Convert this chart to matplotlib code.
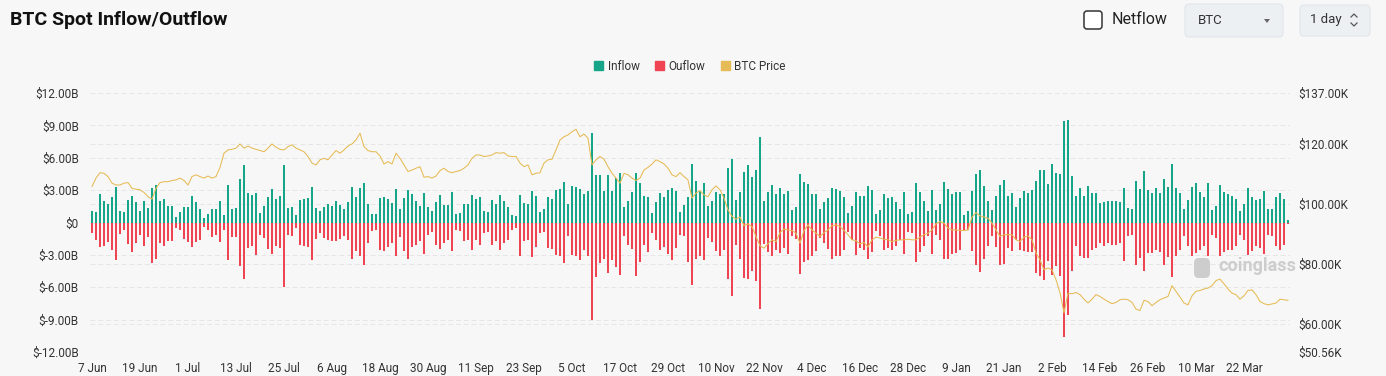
import matplotlib.pyplot as plt
import numpy as np
import pandas as pd
from matplotlib.patches import Patch, FancyBboxPatch, Polygon
from matplotlib.lines import Line2D
from matplotlib.transforms import IdentityTransform, blended_transform_factory

plt.rcParams['font.family'] = ['Roboto', 'DejaVu Sans']

## datos diarios desde el 7 Jun 2025 (miles de millones USD y miles USD)
start = '2025-06-07'

inflow = [
    1.08, 0.95, 2.62, 1.97, 1.69, 2.37, 3.32, 1.02, 0.95, 2.06,
    2.43, 1.88, 1.05, 1.97, 1.32, 3.2, 3.45, 2.0, 2.18, 1.51,
    1.51, 0.49, 0.98, 1.42, 1.45, 2.43, 1.91, 1.23, 0.46, 0.83,
    1.23, 1.23, 2.03, 0.71, 3.45, 1.23, 1.38, 4.06, 5.29, 2.71,
    2.52, 2.77, 0.89, 1.57, 2.37, 3.11, 2.15, 2.46, 5.35,
    1.32, 1.48, 0.68, 2.09, 2.15, 2.25, 3.32, 1.38, 1.05, 1.48,
    1.69, 1.57, 1.97, 1.6, 1.23, 1.94, 3.32, 2.4, 3.23, 3.69,
    1.69, 0.83, 0.77, 2.25, 2.4, 2.18, 1.78, 3.08, 1.23, 2.25,
    3.05, 2.62, 2.03, 1.57, 2.71, 1.48, 1.08, 1.94, 2.55, 1.63,
    1.63, 2.8, 0.77, 0.86, 1.69, 1.75, 2.52, 2.15, 2.34, 1.11,
    0.98, 2.06, 1.69, 2.55, 2.03, 1.48, 0.71, 0.62, 2.52, 1.78,
    1.75, 2.95, 2.49, 0.95, 1.26, 2.37, 2.15, 3.02, 3.11, 3.72,
    1.69, 3.42, 3.32, 3.11, 2.62, 2.95, 8.31, 4.37, 4.37, 2.95,
    4.37, 2.95, 4.09, 4.62, 1.42, 2.0, 2.83, 4.62, 3.63, 2.46,
    2.37, 0.86, 1.88, 2.71, 2.4, 3.02, 3.23, 2.89, 0.95, 1.6,
    2.4, 5.38, 3.82, 2.92, 3.69, 1.54, 2.03, 2.8, 2.65, 2.62,
    5.02, 5.85, 2.12, 2.86, 4.65, 5.35, 4.25, 4.89, 7.88, 2.0,
    2.83, 3.51, 2.62, 3.17, 2.62, 2.89, 1.17, 1.48, 4.46, 3.75,
    3.54, 2.62, 2.65, 1.26, 1.88, 2.31, 3.23, 3.14, 2.92, 2.4,
    0.92, 1.57, 2.86, 2.49, 2.49, 3.42, 2.98, 0.77, 1.14, 2.62,
    2.3, 2.34, 1.94, 1.29, 2.8, 0.8, 0.95, 3.63, 2.8, 2.03,
    1.08, 2.98, 1.2, 1.75, 3.78, 3.14, 2.65, 2.83, 2.8, 0.71,
    1.05, 2.95, 4.46, 4.89, 3.42, 2.03, 1.14, 2.49, 3.45, 3.97,
    2.43, 2.74, 1.42, 2.31, 2.95, 2.77, 2.98, 3.82, 4.89, 4.89,
    3.57, 5.42, 4.58, 4.46, 9.38, 9.51, 4.34, 2.46, 3.23, 2.49,
    3.42, 2.71, 2.71, 1.78, 1.94, 1.97, 2.03, 2.03, 1.88, 3.23,
    1.32, 1.26, 3.82, 3.11, 4.8, 3.05, 2.71, 3.17, 2.77, 4.0,
    3.26, 5.45, 3.17, 2.74, 1.26, 2.09, 3.26, 3.63, 2.8, 2.4,
    3.66, 1.17, 1.57, 3.51, 2.86, 2.62, 2.49, 2.15, 1.08, 1.69,
    3.23, 2.34, 2.06, 2.22, 2.92, 1.23, 1.29, 2.37, 2.71, 2.18,
    0.25,
]

outflow = [
    0.98, 1.6, 2.28, 2.22, 1.82, 2.58, 3.45, 1.05, 0.74, 1.97,
    2.74, 1.91, 1.14, 2.22, 1.35, 3.75, 3.35, 1.91, 2.22, 1.75,
    1.75, 0.52, 0.74, 1.54, 1.85, 2.28, 1.85, 1.6, 0.46, 0.74,
    1.35, 1.2, 1.82, 0.74, 3.51, 1.35, 1.35, 4.0, 5.2, 2.37,
    2.22, 2.98, 1.14, 1.48, 2.43, 2.89, 2.15, 2.37, 6.0,
    1.14, 1.23, 0.52, 2.06, 2.22, 2.31, 3.51, 1.51, 0.98, 1.45,
    1.6, 1.75, 1.69, 1.54, 1.23, 1.6, 3.35, 2.68, 3.14, 3.91,
    1.91, 0.83, 0.74, 2.52, 2.68, 2.28, 1.91, 3.14, 1.35, 2.62,
    3.35, 2.28, 2.06, 1.75, 2.92, 1.14, 0.92, 2.06, 2.46, 1.91,
    1.6, 2.68, 0.74, 0.83, 1.69, 1.6, 2.58, 1.6, 2.12, 0.98,
    0.92, 2.06, 1.75, 2.52, 1.91, 1.6, 0.68, 0.52, 3.08, 1.75,
    1.6, 3.23, 2.28, 0.98, 0.92, 2.37, 2.46, 2.98, 3.14, 3.75,
    1.29, 3.05, 3.14, 3.45, 2.52, 3.14, 9.05, 5.08, 3.75, 3.35,
    4.68, 3.45, 4.15, 4.89, 1.29, 2.06, 2.46, 4.92, 3.66, 2.12,
    2.77, 0.98, 1.6, 2.58, 2.31, 2.92, 3.51, 2.37, 1.14, 1.29,
    3.69, 5.75, 3.35, 3.14, 3.51, 1.45, 1.85, 2.68, 3.14, 2.52,
    5.2, 6.83, 2.06, 3.35, 5.14, 5.23, 4.52, 5.45, 8.06, 1.97,
    2.77, 3.14, 2.52, 2.83, 2.37, 2.89, 1.29, 1.51, 4.74, 3.69,
    3.45, 3.14, 2.62, 1.45, 1.91, 2.43, 3.35, 3.14, 3.14, 2.52,
    0.92, 1.6, 2.98, 2.37, 2.52, 3.35, 2.77, 0.77, 1.29, 2.58,
    2.4, 2.52, 2.22, 1.6, 2.89, 0.92, 0.98, 3.69, 2.77, 2.15,
    1.23, 2.89, 1.14, 1.6, 3.38, 3.38, 2.89, 2.83, 2.52, 0.74,
    0.68, 2.68, 3.91, 4.58, 3.38, 2.15, 1.23, 2.31, 3.97, 3.85,
    2.37, 2.62, 1.6, 2.52, 2.68, 2.77, 2.77, 4.68, 4.92, 5.35,
    3.6, 4.83, 4.0, 4.92, 10.6, 8.6, 4.52, 2.22, 3.14, 3.29,
    3.29, 2.52, 2.37, 1.91, 2.22, 1.91, 2.06, 2.06, 1.91, 3.6,
    1.29, 1.14, 3.91, 3.29, 4.52, 2.83, 2.83, 2.52, 2.77, 3.97,
    3.23, 5.08, 3.14, 2.52, 1.29, 2.15, 3.08, 2.83, 2.52, 2.22,
    3.14, 1.14, 1.45, 3.14, 2.77, 2.52, 2.52, 2.22, 1.14, 1.6,
    2.98, 2.68, 2.22, 2.37, 2.89, 1.14, 1.23, 2.22, 2.52, 2.06,
    0.1,
]

price = [
    105.8, 108.6, 110.4, 110.2, 109.1, 106.9, 106.3, 106.3, 106.9, 107.1,
    105.2, 104.9, 104.7, 103.8, 102.4, 101.6, 105.2, 107.1, 107.4, 107.4,
    107.8, 108.0, 108.6, 107.8, 106.3, 109.1, 109.7, 109.1, 108.6, 109.3,
    108.6, 109.1, 112.2, 116.9, 118.0, 118.2, 118.6, 120.0, 118.6, 119.3,
    118.6, 118.2, 117.8, 117.4, 118.6, 120.0, 118.9, 118.2, 118.0,
    119.1, 119.7, 118.6, 118.0, 117.4, 115.8, 113.6, 113.0, 114.7, 115.2,
    114.7, 116.3, 117.8, 116.9, 118.0, 119.3, 120.0, 121.3, 123.6, 119.1,
    117.8, 117.4, 117.4, 116.0, 113.3, 114.1, 113.3, 116.9, 115.2, 113.0,
    110.8, 111.3, 111.9, 112.4, 108.9, 109.1, 108.6, 109.3, 111.1, 111.9,
    110.8, 110.4, 110.8, 111.1, 111.9, 113.0, 115.2, 116.3, 116.3, 115.8,
    116.0, 116.3, 117.1, 116.9, 117.1, 116.0, 115.8, 115.8, 113.6, 112.4,
    113.0, 109.7, 110.2, 110.4, 113.6, 114.7, 114.9, 118.0, 121.3, 122.4,
    123.0, 124.1, 124.9, 122.4, 123.3, 121.9, 113.0, 114.7, 115.8, 114.9,
    112.4, 110.2, 108.6, 106.9, 110.2, 109.7, 108.6, 107.8, 108.6, 111.3,
    112.2, 113.3, 114.7, 114.1, 113.3, 111.9, 109.7, 109.1, 110.4, 109.1,
    108.0, 101.9, 103.6, 104.4, 103.0, 102.4, 104.7, 106.0, 104.7, 101.9,
    98.0, 95.8, 94.9, 95.6, 92.7, 93.3, 92.4, 89.1, 86.0, 85.2,
    86.7, 88.0, 87.4, 90.4, 91.6, 91.3, 91.1, 90.2, 86.9, 91.1,
    93.0, 91.3, 90.2, 89.1, 90.4, 91.3, 92.7, 93.0, 92.4, 91.1,
    89.7, 88.0, 87.7, 86.7, 87.1, 85.6, 88.0, 88.9, 88.6, 88.2,
    88.0, 87.4, 87.8, 88.0, 88.0, 88.2, 88.0, 88.0, 88.9, 89.7,
    90.2, 91.3, 93.3, 94.1, 93.6, 91.9, 91.3, 91.3, 91.1, 91.1,
    91.3, 95.6, 97.1, 96.0, 95.6, 95.2, 93.6, 91.3, 89.1, 89.7,
    89.7, 89.7, 88.0, 87.4, 88.9, 89.3, 88.0, 83.6, 81.3, 78.0,
    78.6, 78.0, 74.7, 70.4, 63.6, 70.2, 70.0, 70.4, 69.7, 68.2,
    66.9, 68.2, 69.7, 69.1, 68.2, 67.4, 66.7, 67.1, 68.0, 68.2,
    68.0, 67.1, 64.9, 64.4, 67.8, 67.4, 66.0, 67.1, 68.0, 68.6,
    69.1, 72.7, 70.8, 68.9, 66.9, 66.3, 69.3, 70.8, 71.1, 71.6,
    71.9, 72.7, 74.4, 74.9, 73.3, 71.6, 70.2, 69.7, 68.2, 69.3,
    71.1, 71.3, 69.7, 67.4, 66.7, 66.3, 66.6, 66.9, 68.2, 68.0,
    67.8,
]

left_ticks = [-12, -9, -6, -3, 0, 3, 6, 9, 12]
left_labels = ['$-12.00B', '$-9.00B', '$-6.00B', '$-3.00B', '$0',
               '$3.00B', '$6.00B', '$9.00B', '$12.00B']
right_ticks = [50.56, 60, 80, 100, 120, 137]
right_labels = ['$50.56K', '$60.00K', '$80.00K', '$100.00K', '$120.00K', '$137.00K']

green = '#17a589'
red = '#ef4452'
gold = '#e6bb55'
bg = '#f7f7f7'
txt = '#333333'
grid_c = '#e6e6e6'

n = len(inflow)
idx = np.arange(n)
dates = pd.date_range(start, periods=n, freq='D')

fig = plt.figure(figsize=(13.86, 3.76), dpi=100, facecolor=bg)
ax = fig.add_axes([90/1386, 24/376, 1200/1386, 259/376])
ax.set_facecolor(bg)
ax2 = ax.twinx()

ax.bar(idx, inflow, width=0.68, color=green, zorder=2)
ax.bar(idx, -np.array(outflow), width=0.68, color=red, zorder=2)
ax.set_xlim(-0.5, n - 0.5)
ax.set_ylim(-12, 12)
ax.set_yticks(left_ticks)
ax.set_yticklabels(left_labels)
ax.grid(axis='y', color=grid_c, lw=0.7, ls=(0, (5, 3)), zorder=0)
ax.set_axisbelow(True)

xt = idx[::12]
ax.set_xticks(xt)
ax.set_xticklabels([f"{d.day} {d.strftime('%b')}" for d in dates[::12]])

ax2.plot(idx, price, color=gold, lw=0.75, zorder=3)
ax2.set_ylim(50.56, 137)
ax2.set_yticks(right_ticks)
ax2.set_yticklabels(right_labels)

# lineas de la escala derecha, debajo de las barras
tr = blended_transform_factory(ax.transAxes, ax2.transData)
for v in right_ticks[1:-1]:
    ax.plot([0, 1], [v, v], transform=tr, color=grid_c, lw=0.7,
            ls=(0, (5, 3)), zorder=0)

for a in (ax, ax2):
    for s in a.spines.values():
        s.set_visible(False)
    a.tick_params(length=0, labelsize=8.5, colors=txt)
ax.tick_params(axis='y', pad=8)
ax.tick_params(axis='x', pad=7)
ax2.tick_params(axis='y', pad=6)

fig.text(10/1386, 1 - 20/376, 'BTC Spot Inflow/Outflow', fontsize=14,
         fontweight='bold', color='#111111', va='center', ha='left')

handles = [Patch(color=green, label='Inflow'),
           Patch(color=red, label='Ouflow'),
           Patch(color=gold, label='BTC Price')]
fig.legend(handles=handles, loc='center', bbox_to_anchor=(690/1386, 1 - 66/376),
           ncol=3, frameon=False, fontsize=8.5, handlelength=0.75, handleheight=0.75,
           handletextpad=0.4, columnspacing=1.3, labelcolor=txt)

# controles de la esquina superior derecha (en pixeles)
H = 376
px = IdentityTransform()
fig.add_artist(FancyBboxPatch((1084, H - 29), 18, 18, boxstyle='round,pad=0,rounding_size=3',
                              transform=px, fc='white', ec='#333333', lw=1.1))
fig.text(1112/1386, 1 - 20/H, 'Netflow', fontsize=11.5, color='#222222', va='center')
fig.add_artist(FancyBboxPatch((1185, H - 37), 98, 33, boxstyle='round,pad=0,rounding_size=4',
                              transform=px, fc='#edf0f3', ec='#e1e5ea', lw=0.8))
fig.text(1198/1386, 1 - 20/H, 'BTC', fontsize=9.5, color='#333333', va='center')
fig.add_artist(Polygon([[1264, H - 19], [1270, H - 19], [1267, H - 23]], closed=True,
                       transform=px, fc='#666666', ec='none'))
fig.add_artist(FancyBboxPatch((1300, H - 36), 70, 31, boxstyle='round,pad=0,rounding_size=4',
                              transform=px, fc='#edf0f3', ec='#e1e5ea', lw=0.8))
fig.text(1310/1386, 1 - 20/H, '1 day', fontsize=9.5, color='#333333', va='center')
fig.add_artist(Line2D([1351, 1354, 1357], [H - 17, H - 14, H - 17], transform=px,
                      color='#555555', lw=0.9))
fig.add_artist(Line2D([1351, 1354, 1357], [H - 23, H - 26, H - 23], transform=px,
                      color='#555555', lw=0.9))

# marca de agua
fig.add_artist(FancyBboxPatch((1194, H - 278), 16, 20, boxstyle='round,pad=0,rounding_size=5',
                              transform=px, fc='#c9c9c9', ec='none', alpha=0.9))
fig.text(1218/1386, 1 - 266/H, 'coinglass', fontsize=13, fontweight='bold',
         color='#cdcdcd', va='center')

plt.savefig('out.png', dpi=100, facecolor=bg)
